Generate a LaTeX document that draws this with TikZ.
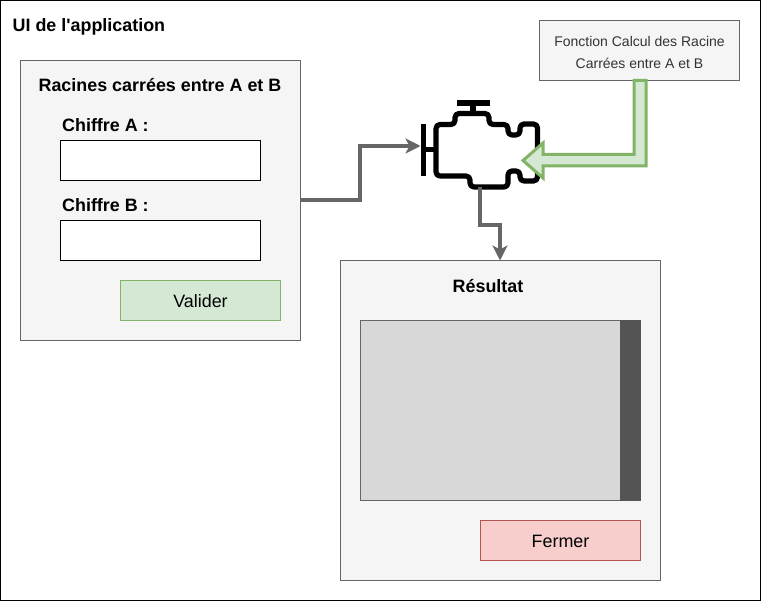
\documentclass[tikz,border=0pt]{standalone}
\usepackage{fontspec}
\setmainfont{Liberation Sans}
\usetikzlibrary{arrows.meta}
\definecolor{panelfill}{HTML}{F5F5F5}
\definecolor{panelline}{HTML}{666666}
\definecolor{okfill}{HTML}{D5E8D4}
\definecolor{okline}{HTML}{82B366}
\definecolor{nofill}{HTML}{F8CECC}
\definecolor{noline}{HTML}{B85450}
\definecolor{listfill}{HTML}{D8D8D8}
\definecolor{barfill}{HTML}{545454}
\tikzset{
  box/.style={anchor=north west,inner sep=0pt,outer sep=0pt,draw,line width=1pt},
  panel/.style={box,fill=panelfill,draw=panelline},
  field/.style={box,fill=white,draw=black},
  okbtn/.style={box,fill=okfill,draw=okline},
  nobtn/.style={box,fill=nofill,draw=noline},
  title/.style={inner sep=0pt,font=\fontsize{17.9}{21}\selectfont\bfseries},
  btntext/.style={inner sep=0pt,font=\fontsize{17.9}{21}\selectfont},
  link/.style={draw=panelline,line width=3.2pt,-{Stealth[length=15pt,width=15pt,inset=4pt]}},
  enginestroke/.style={draw=black,line width=5.2pt,line join=round,line cap=butt},
}
\begin{document}
\begin{tikzpicture}[x=1pt,y=-1pt]
\useasboundingbox (0,0) rectangle (762,601);
\node[box,draw=black,fill=white,minimum width=760pt,minimum height=600pt] (frame) at (0.5,0.5) {};
\node[title,anchor=base west] (apptitle) at (12.5,32) {UI de l\textquotesingle application};

% source panel
\node[panel,minimum width=280pt,minimum height=280pt] (form) at (20.5,60.5) {};
\node[title,anchor=base] (formtitle) at (160,92) {Racines carrées entre A et B};
\node[title,anchor=base west] (labela) at (62,132) {Chiffre A :};
\node[field,minimum width=200pt,minimum height=40pt] (fielda) at (60.5,140.5) {};
\node[title,anchor=base west] (labelb) at (62,212) {Chiffre B :};
\node[field,minimum width=200pt,minimum height=40pt] (fieldb) at (60.5,220.5) {};
\node[okbtn,minimum width=160pt,minimum height=40pt] (valider) at (120.5,280.5) {};
\node[btntext] (validertext) at (200.5,301) {Valider};

% result panel
\node[panel,minimum width=320pt,minimum height=320pt] (result) at (340.5,260.5) {};
\node[title,anchor=base] (resulttitle) at (488,292) {Résultat};
\node[box,fill=listfill,draw=panelline,minimum width=280pt,minimum height=180pt] (list) at (360.5,320.5) {};
\node[box,fill=barfill,draw=barfill,minimum width=20pt,minimum height=180pt] (bar) at (620.5,320.5) {};
\node[nobtn,minimum width=160pt,minimum height=40pt] (fermer) at (480.5,520.5) {};
\node[btntext] (fermertext) at (560.5,541) {Fermer};

% function box
\node[panel,minimum width=200pt,minimum height=60pt] (func) at (539.5,20.5) {};
\node[inner sep=0pt,align=center,font=\fontsize{14}{21.5}\selectfont,text=black!80] (functext) at (639.5,52.5)
  {Fonction Calcul des Racine\\Carrées entre A et B};

% engine
\coordinate (enginein) at (420.5,146);
\coordinate (engineout) at (480,187);
\coordinate (enginemid) at (523,160.5);
\draw[enginestroke,rounded corners=4pt]
  (436,150) -- (436,124.5) -- (455,124.5) -- (455,113.5) -- (489,113.5) -- (489,124.5)
  -- (508,124.5) -- (508,135) -- (520,135) -- (520,124) -- (537.5,124) -- (537.5,181)
  -- (520,181) -- (520,171) -- (508,171) -- (508,187) -- (470,187) -- (470,176)
  -- (436,176) -- cycle;
\draw[enginestroke,line width=5.5pt] (423.5,124) -- (423.5,176);
\draw[enginestroke] (423.5,149.5) -- (436,149.5);
\draw[enginestroke,line width=5.5pt] (457,103) -- (489.5,103);
\draw[enginestroke] (473,103) -- (473,113.5);

% connectors
\draw[link] (form.east |- 0,200) -- (360,200) -- (360,146) -- (enginein);
\draw[link] (engineout) -- (480,225) -- (500,225) -- (result.north -| 500,0);

% green block arrow
\draw[draw=okline,fill=okfill,line width=3pt,line join=miter,miter limit=10]
  (func.south -| 634,0) -- (634,154.5) -- (543,154.5) -- (543,143) -- (enginemid)
  -- (543,178) -- (543,166) -- (646,166) -- (func.south -| 646,0) -- cycle;
\end{tikzpicture}
\end{document}
